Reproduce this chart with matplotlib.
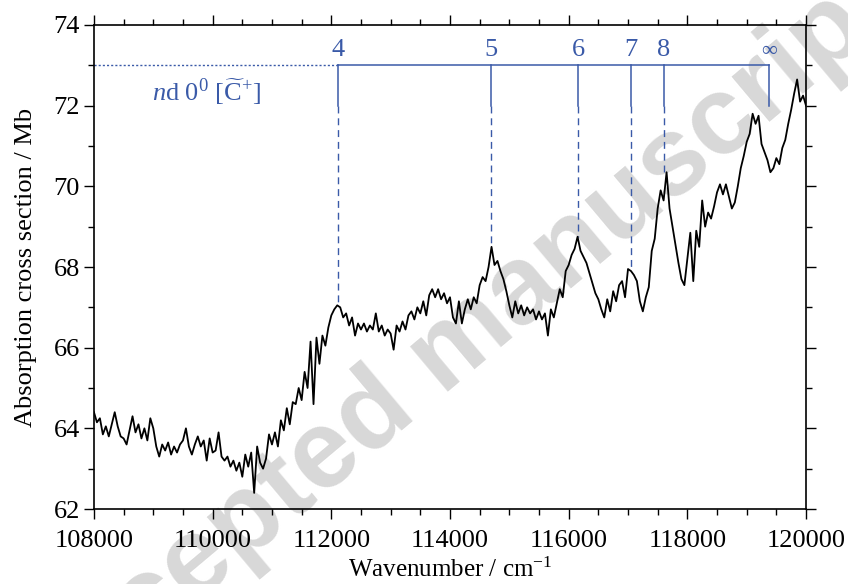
import numpy as np
import matplotlib
matplotlib.use("Agg")
import matplotlib.pyplot as plt
from matplotlib.ticker import MultipleLocator

plt.rcParams["font.family"] = ["Liberation Serif", "DejaVu Serif"]
plt.rcParams["mathtext.fontset"] = "custom"
plt.rcParams["mathtext.rm"] = "Liberation Serif"
plt.rcParams["mathtext.it"] = "Liberation Serif:italic"

# absorption spectrum, sampled every 50 cm-1 from 108000 to 120000
wn_start = 108000
wn_step = 50
sigma = [
    64.40, 64.15, 64.25, 63.85, 64.05, 63.80, 64.10, 64.40, 64.05, 63.80,
    63.75, 63.60, 63.95, 64.30, 63.90, 64.10, 63.75, 64.00, 63.70, 64.25,
    64.00, 63.55, 63.30, 63.60, 63.45, 63.65, 63.35, 63.55, 63.40, 63.60,
    63.70, 64.00, 63.55, 63.35, 63.60, 63.80, 63.55, 63.70, 63.20, 63.75,
    63.40, 63.45, 63.90, 63.30, 63.20, 63.30, 63.05, 63.20, 62.95, 63.15,
    62.80, 63.35, 63.05, 63.40, 62.40, 63.55, 63.15, 63.00, 63.25, 63.85,
    63.60, 63.90, 63.55, 64.20, 63.95, 64.50, 64.10, 64.65, 64.60, 65.00,
    64.70, 65.40, 65.00, 66.15, 64.60, 66.25, 65.60, 66.30, 66.05, 66.50,
    66.80, 66.95, 67.05, 67.00, 66.75, 66.85, 66.55, 66.75, 66.30, 66.60,
    66.45, 66.60, 66.40, 66.55, 66.45, 66.85, 66.40, 66.55, 66.30, 66.45,
    66.35, 65.95, 66.55, 66.40, 66.65, 66.45, 66.80, 66.90, 66.70, 67.00,
    66.85, 67.15, 66.80, 67.30, 67.45, 67.25, 67.45, 67.20, 67.35, 67.10,
    67.25, 66.75, 66.60, 67.15, 66.60, 66.95, 67.20, 66.95, 67.25, 67.10,
    67.55, 67.75, 67.65, 68.00, 68.50, 68.05, 68.15, 67.90, 67.70, 67.40,
    67.05, 66.75, 67.15, 66.85, 67.05, 66.80, 67.00, 66.85, 66.95, 66.70,
    66.90, 66.70, 66.85, 66.30, 66.95, 66.75, 67.10, 67.45, 67.25, 67.90,
    68.05, 68.30, 68.45, 68.75, 68.40, 68.25, 68.10, 67.85, 67.60, 67.35,
    67.20, 66.95, 66.75, 67.20, 66.90, 67.40, 67.15, 67.55, 67.65, 67.25,
    67.95, 67.90, 67.80, 67.65, 67.15, 66.90, 67.25, 67.50, 68.40, 68.70,
    69.45, 69.90, 69.65, 70.35, 69.45, 69.00, 68.55, 68.10, 67.70, 67.55,
    68.20, 68.85, 67.65, 68.90, 68.50, 69.65, 69.00, 69.35, 69.20, 69.50,
    69.85, 70.05, 69.80, 70.05, 69.75, 69.45, 69.60, 70.00, 70.45, 70.75,
    71.10, 71.30, 71.80, 71.55, 71.75, 71.05, 70.85, 70.65, 70.35, 70.45,
    70.70, 70.55, 70.95, 71.15, 71.55, 71.90, 72.30, 72.65, 72.10, 72.25,
    72.00,
]
wavenumber = wn_start + wn_step * np.arange(len(sigma))

# Rydberg series nd 0^0 converging on the C~+ state
levels = ["4", "5", "6", "7", "8", "\u221e"]
level_pos = [112113, 114691, 116158, 117051, 117607, 119377]
level_peak = [67.05, 68.50, 68.75, 67.95, 70.35]
ladder_y = 73.0
stem_y = 72.0

blue = "#3a5aa8"

fig = plt.figure(figsize=(8.48, 5.84), dpi=100)
ax = fig.add_axes([0.1108, 0.1284, 0.8397, 0.8288])
ax.set_facecolor("none")

fig.text(0.531, 0.397, "Accepted manuscript", family="Liberation Sans",
         fontweight="bold", fontsize=80, color="#d8d8d8", rotation=40,
         ha="center", va="center", zorder=-1)

ax.plot(wavenumber, sigma, color="black", lw=1.3, zorder=3)

# ladder
ax.plot([wn_start, level_pos[0]], [ladder_y, ladder_y], color=blue, lw=1,
        linestyle=(0, (1.5, 1.5)))
ax.plot([level_pos[0], level_pos[-1]], [ladder_y, ladder_y], color=blue, lw=1.1)
for i, (pos, lab) in enumerate(zip(level_pos, levels)):
    ax.plot([pos, pos], [ladder_y, stem_y], color=blue, lw=1.1)
    if i < len(level_peak):
        ax.plot([pos, pos], [stem_y, level_peak[i]], color=blue, lw=1,
                linestyle=(0, (5, 3.5)))
    fs = 16 if lab == "\u221e" else 19
    ax.text(pos, ladder_y + 0.1, lab, color=blue, fontsize=fs,
            ha="center", va="bottom")
ax.text(109905, 72.35, r"$n$d 0$^0$ [$\widetilde{\mathrm{C}}^{+}$]",
        color=blue, fontsize=19, ha="center", va="center")

ax.set_xlim(108000, 120000)
ax.set_ylim(62, 74)
ax.xaxis.set_major_locator(MultipleLocator(2000))
ax.xaxis.set_minor_locator(MultipleLocator(500))
ax.yaxis.set_major_locator(MultipleLocator(2))
ax.yaxis.set_minor_locator(MultipleLocator(1))
ax.tick_params(which="both", direction="out", top=True, right=True,
               labelsize=19, width=1)
ax.tick_params(which="major", length=7, pad=3)
ax.tick_params(which="minor", length=4)
ax.tick_params(axis="x", which="major", pad=8)
for s in ax.spines.values():
    s.set_linewidth(1.2)

ax.set_xlabel("Wavenumber / cm$^{-1}$", fontsize=18, labelpad=4)
ax.set_ylabel("Absorption cross section / Mb", fontsize=19, labelpad=12)

fig.savefig("out.png", dpi=100)
